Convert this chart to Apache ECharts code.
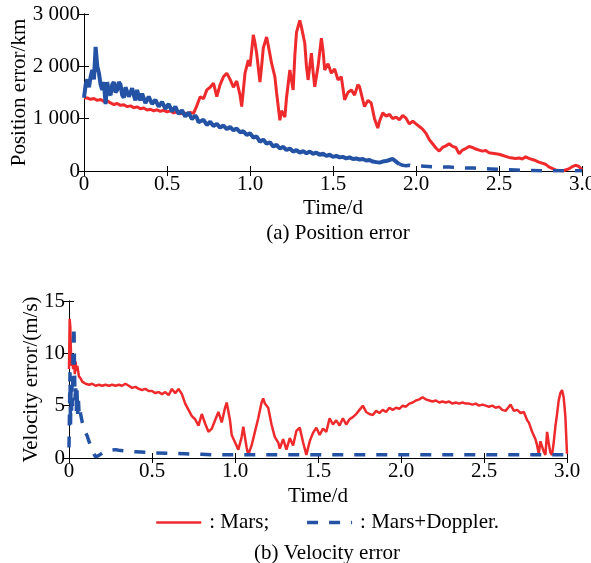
<!DOCTYPE html>
<html>
<head>
<meta charset="utf-8">
<script src="https://cdn.jsdelivr.net/npm/echarts@6/dist/echarts.min.js"></script>
<style>
html,body{margin:0;padding:0;background:#fff;}
#chart{width:591px;height:563px;}
</style>
</head>
<body>
<div id="chart"></div>
<script>
// ---- data ----
const seriesNames = ['Mars', 'Mars+Doppler'];
const legendLabels = { 'Mars': ': Mars;', 'Mars+Doppler': ': Mars+Doppler.' };
const panelTitles = ['(a) Position error', '(b) Velocity error'];
const xName = 'Time/d';
const yNames = ['Position error/km', 'Velocity error/(m/s)'];

// Position error (km) – Mars only
const posMars = [
[0.00,1400],[0.02,1395],[0.04,1370],[0.06,1385],[0.08,1350],[0.10,1365],[0.12,1330],[0.14,1340],[0.16,1300],[0.18,1270],
[0.20,1290],[0.22,1255],[0.24,1265],[0.26,1230],[0.28,1245],[0.30,1210],[0.32,1225],[0.34,1190],[0.36,1205],[0.38,1165],
[0.40,1180],[0.42,1150],[0.44,1170],[0.46,1140],[0.48,1160],[0.50,1130],[0.52,1150],[0.54,1110],[0.56,1130],[0.58,1095],
[0.60,1115],[0.62,1085],[0.64,1120],[0.66,1100],[0.68,1250],[0.70,1420],[0.72,1380],[0.74,1550],[0.76,1600],[0.78,1680],
[0.80,1420],[0.82,1650],[0.84,1800],[0.86,1870],[0.88,1750],[0.90,1600],[0.92,1720],[0.94,1450],[0.95,1230],[0.97,1870],
[0.99,2120],[1.00,2000],[1.02,2600],[1.03,2450],[1.04,2250],[1.06,1700],[1.07,2000],[1.08,2350],[1.10,2560],[1.11,2400],
[1.13,2060],[1.15,1800],[1.16,1500],[1.18,970],[1.19,1150],[1.21,1030],[1.22,1400],[1.24,1930],[1.26,1550],[1.27,2200],
[1.28,2650],[1.30,2880],[1.31,2750],[1.33,2440],[1.34,2000],[1.35,1740],[1.37,2250],[1.38,1900],[1.39,1610],[1.41,2000],
[1.43,2540],[1.44,2300],[1.45,1930],[1.47,2050],[1.49,1870],[1.51,1950],[1.53,1740],[1.55,1800],[1.57,1360],[1.59,1500],
[1.61,1550],[1.63,1450],[1.65,1650],[1.66,1610],[1.68,1350],[1.69,1230],[1.71,1350],[1.73,1300],[1.75,1000],[1.77,820],
[1.78,950],[1.80,1110],[1.82,1050],[1.84,1080],[1.86,1000],[1.88,1030],[1.90,980],[1.92,1060],[1.94,1010],[1.96,900],
[1.98,950],[2.00,900],[2.02,850],[2.04,800],[2.06,720],[2.08,600],[2.10,520],[2.12,440],[2.14,380],[2.16,450],
[2.18,480],[2.20,520],[2.22,470],[2.24,450],[2.26,330],[2.28,400],[2.30,430],[2.32,470],[2.34,450],[2.36,420],
[2.38,400],[2.40,380],[2.42,390],[2.44,350],[2.46,340],[2.48,330],[2.50,320],[2.52,300],[2.54,280],[2.56,260],
[2.58,250],[2.60,240],[2.62,250],[2.64,230],[2.66,270],[2.68,240],[2.70,220],[2.72,200],[2.74,170],[2.76,150],
[2.78,130],[2.80,80],[2.82,50],[2.84,20],[2.86,10],[2.88,0],[2.90,20],[2.92,40],[2.94,80],[2.96,110],[2.98,90],[3.00,20]
];

// Position error (km) – Mars+Doppler, noisy early part
const posDopplerEarly = [
[0.00,1400],[0.01,1650],[0.02,1750],[0.03,1600],[0.04,1800],[0.05,1930],[0.06,1750],[0.07,2370],[0.08,2000],[0.09,1870],
[0.10,1650],[0.11,1550],[0.12,1700],[0.13,1280],[0.14,1700],[0.15,1500],[0.16,1450],[0.17,1650],[0.18,1700],[0.19,1500],
[0.20,1550],[0.21,1700],[0.22,1650],[0.23,1450],[0.24,1400],[0.25,1600],[0.26,1600],[0.27,1420],[0.28,1500],[0.29,1580],
[0.30,1450],[0.31,1350],[0.32,1550],[0.33,1420],[0.34,1350],[0.35,1480],[0.36,1450],[0.37,1300],[0.38,1300],[0.39,1420],
[0.40,1400],[0.41,1280],[0.42,1250],[0.43,1360],[0.44,1350],[0.45,1230],[0.46,1220],[0.47,1320],[0.48,1300],[0.49,1190],
[0.50,1200],[0.51,1280],[0.52,1250],[0.53,1140],[0.54,1150],[0.55,1230],[0.56,1200],[0.57,1090],[0.58,1080],[0.59,1160],
[0.60,1130],[0.61,1040],[0.62,1050],[0.63,1120],[0.64,1100],[0.65,990],[0.66,980],[0.67,1060],[0.68,1020],[0.69,930],
[0.70,920],[0.72,980],[0.74,880],[0.76,940],[0.78,860],[0.80,900],[0.82,830],[0.84,870],
[0.86,800],[0.88,840],[0.90,780],[0.92,810],[0.94,740],[0.96,760],[0.98,690],[1.00,720],[1.02,640],[1.04,660],
[1.06,560],[1.08,600],[1.10,520],[1.12,550],[1.14,470],[1.16,500],[1.18,430],[1.20,460],[1.22,400],[1.24,430],
[1.26,370],[1.28,400],[1.30,350],[1.32,380],[1.34,340],[1.36,370],[1.38,330],[1.40,350],[1.42,310],[1.44,330],
[1.46,290],[1.48,310],[1.50,270],[1.52,290],[1.54,260],[1.56,270],[1.58,240],[1.60,260],[1.62,230],[1.64,240],
[1.66,220],[1.68,230],[1.70,200],[1.72,210],[1.74,180],[1.76,170],[1.78,160],[1.80,180],[1.82,190],[1.84,210],
[1.86,230],[1.88,180],[1.90,130]
];
// Position error (km) – Mars+Doppler, late part (dashes visible)
const posDopplerLate = [
[1.90,130],[1.92,110],[1.94,100],[1.96,110],[1.98,95],[2.00,100],[2.05,90],[2.10,80],[2.15,78],[2.20,75],
[2.25,65],[2.30,58],[2.35,55],[2.40,50],[2.45,40],[2.50,30],[2.55,25],[2.60,20],[2.65,12],[2.70,10],
[2.75,6],[2.80,5],[2.90,5],[3.00,5]
];

// Velocity error (m/s) – Mars only
const velMars = [
[0,8.5],[0.004,13.3],[0.008,12.5],[0.012,10],[0.016,8.8],[0.02,9.5],[0.025,8.5],[0.03,9.8],[0.035,8],[0.04,9.2],
[0.045,8.3],[0.05,8.8],[0.06,7.8],[0.07,7.6],[0.08,7.3],[0.09,7.4],[0.1,7.1],[0.12,7.0],[0.14,7.1],[0.16,6.9],
[0.18,7.0],[0.2,6.9],[0.22,7.0],[0.24,6.9],[0.26,7.0],[0.28,6.9],[0.3,7.0],[0.32,6.9],[0.34,7.1],[0.36,6.9],
[0.38,6.7],[0.4,6.8],[0.42,6.6],[0.44,6.5],[0.46,6.6],[0.48,6.4],[0.5,6.4],[0.52,6.2],[0.54,6.3],[0.56,6.1],
[0.58,6.3],[0.6,6.0],[0.62,6.6],[0.64,6.2],[0.66,6.6],[0.68,6.1],[0.70,5.2],[0.72,4.6],[0.74,4.0],[0.76,3.7],
[0.78,3.1],[0.80,4.2],[0.82,3.3],[0.84,2.5],[0.86,2.8],[0.88,3.6],[0.90,4.4],[0.92,3.4],[0.94,4.8],[0.95,5.3],
[0.97,3.6],[0.98,2.2],[1.00,1.5],[1.02,0.8],[1.04,2.0],[1.05,3.0],[1.07,1.0],[1.08,0.3],[1.10,1.2],[1.12,2.5],
[1.14,3.8],[1.16,5.3],[1.17,5.7],[1.18,5.2],[1.20,4.8],[1.22,3.2],[1.24,2.0],[1.26,1.5],[1.27,0.9],[1.29,1.8],
[1.31,0.8],[1.33,1.9],[1.35,1.2],[1.37,2.6],[1.39,2.9],[1.41,1.5],[1.43,0.3],[1.45,1.6],[1.47,2.4],[1.49,2.9],
[1.51,2.2],[1.53,2.8],[1.55,2.5],[1.57,3.8],[1.59,3.2],[1.61,3.6],[1.63,3.1],[1.65,3.8],[1.67,3.2],[1.69,3.7],
[1.71,3.9],[1.73,4.2],[1.75,4.6],[1.77,5.0],[1.79,4.4],[1.81,4.2],[1.83,4.1],[1.85,4.5],[1.87,4.3],[1.89,4.6],
[1.91,4.4],[1.93,4.8],[1.95,4.6],[1.97,4.8],[1.99,4.7],[2.01,5.0],[2.03,4.9],[2.05,5.2],[2.07,5.3],[2.09,5.5],
[2.11,5.6],[2.13,5.8],[2.15,5.6],[2.17,5.5],[2.19,5.4],[2.21,5.5],[2.23,5.3],[2.25,5.4],[2.27,5.3],[2.29,5.4],
[2.31,5.2],[2.33,5.3],[2.35,5.2],[2.37,5.3],[2.39,5.2],[2.41,5.2],[2.43,5.1],[2.45,5.2],[2.47,5.0],[2.49,5.1],
[2.51,5.0],[2.53,4.9],[2.55,5.0],[2.57,4.8],[2.59,4.9],[2.61,4.6],[2.63,4.5],[2.65,4.9],[2.66,5.1],[2.68,4.5],
[2.70,4.6],[2.72,4.3],[2.74,4.4],[2.76,3.6],[2.77,3.4],[2.79,2.5],[2.81,1.8],[2.82,1.2],[2.83,0.4],[2.84,1.6],
[2.85,1.5],[2.86,0.6],[2.87,0.3],[2.88,2.5],[2.89,1.4],[2.90,0.5],[2.91,0.3],[2.92,1.5],[2.93,3.0],[2.94,4.2],
[2.95,5.5],[2.96,6.2],[2.97,6.5],[2.98,5.8],[2.99,4.0],[3.00,0.4]
];

// Velocity error (m/s) – Mars+Doppler
const velDoppler = [
[0,1.0],[0.003,4.5],[0.006,8.2],[0.009,3.0],[0.012,6.5],[0.015,4.0],[0.018,7.0],[0.021,5.0],[0.024,9.5],[0.027,11.5],
[0.03,12.6],[0.033,9.0],[0.036,5.5],[0.04,7.0],[0.044,4.5],[0.048,6.5],[0.052,4.2],[0.056,5.8],[0.06,4.5],[0.065,5.0],
[0.07,4.2],[0.08,3.4],[0.09,2.8],[0.1,2.4],[0.11,2.1],[0.12,1.6],[0.13,1.2],[0.14,0.9],[0.15,0.4],[0.16,0.1],
[0.18,0.25],[0.2,0.45],[0.22,0.6],[0.25,0.75],[0.28,0.8],[0.3,0.75],[0.35,0.65],[0.4,0.6],[0.5,0.5],[0.6,0.45],
[0.7,0.4],[0.8,0.35],[0.9,0.3],[1.0,0.3],[1.5,0.3],[2.0,0.3],[2.5,0.3],[3.0,0.3]
];

// axis ticks
const xTicks = { min: 0, max: 3, interval: 0.5 };
const posTicks = { min: 0, max: 3000, interval: 1000 };
const velTicks = { min: 0, max: 15, interval: 5 };

// ---- styles ----
const FONT = '"Liberation Serif", "Times New Roman", serif';
const RED = '#ee2a2c';
const BLUE = '#2452a4';
const DASH = [11, 11];
const axisLineStyle = { lineStyle: { color: '#000', width: 1 } };
const tick = { show: true, inside: true, length: 5, lineStyle: { color: '#000', width: 1 } };
const labelStyle = { color: '#000', fontFamily: FONT, fontSize: 21 };

function xFmt(v) { return v === 0 ? '0' : v.toFixed(1); }
function posFmt(v) { return v === 0 ? '0' : String(v).replace(/(\d)(\d{3})$/, '$1 $2'); }

function xAxes(gi, nameGap) {
  return [
    Object.assign({ gridIndex: gi, type: 'value', position: 'bottom' }, xTicks, {
      axisLine: axisLineStyle, axisTick: tick, splitLine: { show: false },
      axisLabel: Object.assign({ formatter: xFmt, margin: 3 }, labelStyle),
      name: xName, nameLocation: 'middle', nameGap: nameGap, nameMoveOverlap: false,
      nameTextStyle: labelStyle
    }),
    Object.assign({ gridIndex: gi, type: 'value', position: 'top' }, xTicks, {
      axisLine: axisLineStyle, axisTick: tick, splitLine: { show: false },
      axisLabel: { show: false }
    })
  ];
}
function yAxes(gi, ticks, name, nameGap, fmt) {
  return [
    Object.assign({ gridIndex: gi, type: 'value', position: 'left' }, ticks, {
      axisLine: { show: true, lineStyle: { color: '#000', width: 1 } }, axisTick: tick, splitLine: { show: false },
      axisLabel: Object.assign({ formatter: fmt, margin: 4 }, labelStyle),
      name: name, nameLocation: 'middle', nameGap: nameGap, nameRotate: 90, nameMoveOverlap: false,
      nameTextStyle: labelStyle
    }),
    Object.assign({ gridIndex: gi, type: 'value', position: 'right' }, ticks, {
      axisLine: { show: true, lineStyle: { color: '#000', width: 1 } }, axisTick: tick, splitLine: { show: false },
      axisLabel: { show: false }
    })
  ];
}

const chart = echarts.init(document.getElementById('chart'), null, { renderer: 'canvas' });
const option = {
  animation: false,
  backgroundColor: '#fff',
  grid: [
    { left: 84, right: 9, top: 14, height: 157, containLabel: false, outerBoundsMode: 'none' },
    { left: 69, right: 24, top: 301, height: 157, containLabel: false, outerBoundsMode: 'none' }
  ],
  title: [
    { text: panelTitles[0], left: 333, top: 218, textAlign: 'center', textStyle: Object.assign({ fontWeight: 'normal' }, labelStyle) },
    { text: panelTitles[1], left: 322, top: 538, textAlign: 'center', textStyle: Object.assign({ fontWeight: 'normal' }, labelStyle) }
  ],
  legend: {
    left: 155, top: 512, padding: 0, itemWidth: 45, itemHeight: 20, itemGap: 36,
    data: [
      { name: seriesNames[0], lineStyle: { color: RED, width: 2.5, type: 'solid' }, itemStyle: { opacity: 0 } },
      { name: seriesNames[1], lineStyle: { color: BLUE, width: 3.5, type: DASH }, itemStyle: { opacity: 0 } }
    ],
    formatter: n => legendLabels[n],
    textStyle: Object.assign({ padding: [0, 0, 0, 3] }, labelStyle)
  },
  xAxis: xAxes(0, 27).concat(xAxes(1, 28)),
  yAxis: yAxes(0, posTicks, yNames[0], 54, posFmt).concat(yAxes(1, velTicks, yNames[1], 27, v => String(v))),
  series: [
    { name: seriesNames[0], type: 'line', xAxisIndex: 0, yAxisIndex: 0, data: posMars, symbol: 'none',
      lineStyle: { color: RED, width: 3 }, itemStyle: { color: RED } },
    { name: seriesNames[1], type: 'line', xAxisIndex: 0, yAxisIndex: 0, data: posDopplerLate, symbol: 'none',
      lineStyle: { color: BLUE, width: 3.5, type: DASH }, itemStyle: { color: BLUE } },
    { name: seriesNames[1], type: 'line', xAxisIndex: 0, yAxisIndex: 0, data: posDopplerEarly, symbol: 'none',
      lineStyle: { color: BLUE, width: 4 }, itemStyle: { color: BLUE } },
    { name: seriesNames[0], type: 'line', xAxisIndex: 2, yAxisIndex: 2, data: velMars, symbol: 'none',
      lineStyle: { color: RED, width: 2.5 }, itemStyle: { color: RED } },
    { name: seriesNames[1], type: 'line', xAxisIndex: 2, yAxisIndex: 2, data: velDoppler, symbol: 'none',
      lineStyle: { color: BLUE, width: 3.5, type: DASH }, itemStyle: { color: BLUE } }
  ]
};
chart.setOption(option);
</script>
</body>
</html>
